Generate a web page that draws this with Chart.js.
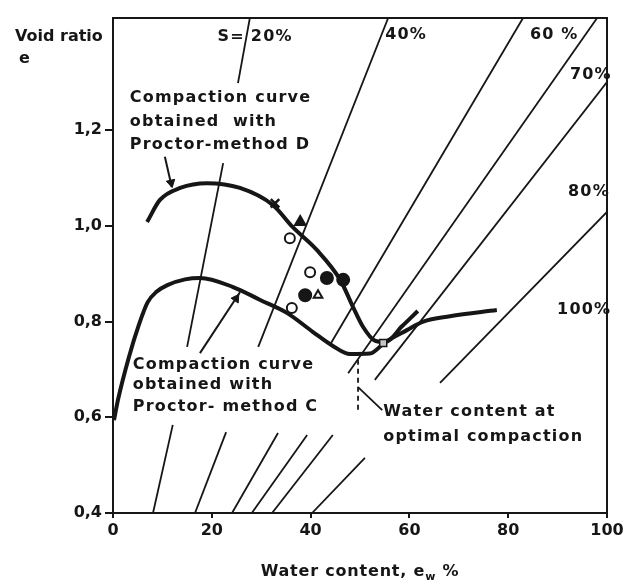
<!DOCTYPE html>
<html>
<head>
<meta charset="utf-8">
<title>Compaction curves</title>
<script src="https://cdn.jsdelivr.net/npm/chart.js@4.4.1/dist/chart.umd.min.js"></script>
<style>
  html, body { margin: 0; padding: 0; background: #fff; }
  #wrap { width: 627px; height: 580px; }
</style>
</head>
<body>
<div id="wrap"><canvas id="chart" width="627" height="580"></canvas></div>
<script>
// water content w (%) / void ratio e
const xTicks = [0, 20, 40, 60, 80, 100];
const yTicks = [0.4, 0.6, 0.8, 1.0, 1.2];
const yTop = 1.434;

// compaction curves
const curveC = [[0.2,0.594],[1.0,0.636],[3.2,0.725],[5.3,0.795],[7.0,0.840],[8.8,0.862],[11.0,0.876],
  [14.6,0.888],[17.6,0.891],[24.3,0.872],[29.8,0.845],[35.2,0.818],[40.5,0.778],[44.5,0.749],[48.0,0.732],
  [52.0,0.733],[55.1,0.757],[59.5,0.782],[62.8,0.800],[68.2,0.811],[77.7,0.824]];
const curveD = [[6.9,1.008],[9.5,1.054],[13.6,1.079],[19.0,1.089],[25.7,1.079],[32.4,1.043],[36.4,0.997],
  [41.3,0.949],[46.0,0.887],[48.6,0.830],[50.6,0.789],[53.0,0.760],[55.1,0.757],[58.5,0.790],[61.7,0.822]];

// saturation lines, split where the labels sit
const sat20 = [[[27.7,1.434],[25.3,1.298]], [[22.3,1.131],[15.0,0.747]], [[8.1,0.40],[12.1,0.584]]];
const sat40 = [[[55.7,1.434],[29.4,0.747]], [[16.6,0.40],[22.9,0.569]]];
const sat60 = [[[83.0,1.434],[43.9,0.751]], [[24.1,0.40],[33.4,0.567]]];
const sat70 = [[[98.0,1.434],[47.6,0.692]], [[28.1,0.40],[39.3,0.563]]];
const sat80 = [[[100,1.300],[53.0,0.678]], [[32.2,0.40],[44.5,0.563]]];
const sat100 = [[[100,1.029],[66.2,0.672]], [[40.3,0.40],[51.0,0.515]]];

// optimum water content marker and leader lines
const optimumLine = [[49.6,0.720],[49.6,0.615]];
const leaderOpt = [[49.6,0.663],[54.5,0.615]];
const leaderD = [[10.5,1.144],[11.9,1.081]];
const leaderC = [[17.6,0.734],[25.7,0.861]];
const arrowD = [[11.75,1.090]];
const arrowC = [[24.9,0.848]];

// test points
const crosses = [[32.8,1.047]];
const filledTriangles = [[37.9,1.008]];
const openCircles = [[35.8,0.974],[39.9,0.903],[36.2,0.828]];
const filledCircles = [[43.3,0.891],[46.6,0.887],[38.9,0.855]];
const openTriangles = [[41.5,0.855]];
const squares = [[54.7,0.755]];

const INK = '#161616';
const FONT = "'DejaVu Sans', sans-serif";

const pts = arr => arr.map(([x, y]) => ({ x, y }));

function lineSet(data, width, extra) {
    return Object.assign({
        data: pts(data),
        showLine: true,
        borderColor: INK,
        borderWidth: width,
        pointRadius: 0,
        fill: false,
        order: 5
    }, extra || {});
}

function markerSet(data, style, radius, filled, extra) {
    return Object.assign({
        data: pts(data),
        showLine: false,
        pointStyle: style,
        pointRadius: radius,
        pointBorderWidth: 2,
        borderColor: INK,
        backgroundColor: filled ? INK : '#fff',
        order: 0
    }, extra || {});
}

const datasets = [];
datasets.push(lineSet(curveC, 4, { cubicInterpolationMode: 'monotone', order: 2 }));
datasets.push(lineSet(curveD, 4, { cubicInterpolationMode: 'monotone', order: 2 }));
[sat20, sat40, sat60, sat70, sat80, sat100].forEach(segs => {
    segs.forEach(seg => datasets.push(lineSet(seg, 1.8)));
});
datasets.push(lineSet(optimumLine, 1.8, { borderDash: [5, 4] }));
datasets.push(lineSet(leaderOpt, 1.8));
datasets.push(lineSet(leaderD, 2));
datasets.push(lineSet(leaderC, 2));
datasets.push(markerSet(arrowD, 'triangle', 5, true, { rotation: 167, pointBorderWidth: 1 }));
datasets.push(markerSet(arrowC, 'triangle', 5, true, { rotation: 34, pointBorderWidth: 1 }));
datasets.push(markerSet(crosses, 'crossRot', 6, false, { pointBorderWidth: 2.5 }));
datasets.push(markerSet(filledTriangles, 'triangle', 6, true));
datasets.push(markerSet(openCircles, 'circle', 5, false));
datasets.push(markerSet(filledCircles, 'circle', 6, true));
datasets.push(markerSet(openTriangles, 'triangle', 5, false));
datasets.push(markerSet(squares, 'rect', 5, false, { backgroundColor: '#c4c4c4', pointBorderWidth: 1.5 }));

// text placed in data coordinates
const textLabels = [
    { x: 26.7, y: 1.394, text: 'S=', align: 'right' },
    { x: 27.9, y: 1.394, text: '20%' },
    { x: 55.1, y: 1.398, text: '40%' },
    { x: 84.4, y: 1.398, text: '60 %' },
    { x: 92.5, y: 1.315, text: '70%' },
    { x: 92.1, y: 1.070, text: '80%' },
    { x: 89.9, y: 0.824, text: '100%' },
    { x: 3.4, y: 1.267, text: 'Compaction curve' },
    { x: 3.4, y: 1.217, text: 'obtained  with' },
    { x: 3.4, y: 1.169, text: 'Proctor-method D' },
    { x: 4.0, y: 0.709, text: 'Compaction curve' },
    { x: 4.0, y: 0.667, text: 'obtained with' },
    { x: 4.0, y: 0.621, text: 'Proctor- method C' },
    { x: 54.7, y: 0.611, text: 'Water content at' },
    { x: 54.7, y: 0.559, text: 'optimal compaction' }
];

const annotations = {
    id: 'annotations',
    afterDatasetsDraw(chart) {
        const { ctx, chartArea: a, scales } = chart;
        ctx.save();
        // frame round the plot
        ctx.strokeStyle = INK;
        ctx.lineWidth = 2;
        ctx.strokeRect(a.left, a.top, a.right - a.left, a.bottom - a.top);

        ctx.fillStyle = INK;
        ctx.font = 'bold 16px ' + FONT;
        ctx.letterSpacing = '1.2px';
        ctx.textBaseline = 'middle';
        textLabels.forEach(l => {
            ctx.textAlign = l.align || 'left';
            ctx.fillText(l.text, scales.x.getPixelForValue(l.x), scales.y.getPixelForValue(l.y));
        });

        // axis titles
        ctx.letterSpacing = '0px';
        ctx.textAlign = 'left';
        ctx.fillText('Void ratio', 15, a.top + 19);
        ctx.fillText('e', 19, a.top + 41);

        ctx.letterSpacing = '0.8px';
        const main = 'Water content, e';
        ctx.font = 'bold 16px ' + FONT;
        const w1 = ctx.measureText(main).width;
        ctx.font = 'bold 11px ' + FONT;
        const w2 = ctx.measureText('w').width;
        ctx.font = 'bold 16px ' + FONT;
        const w3 = ctx.measureText(' %').width;
        let x0 = (a.left + a.right) / 2 - (w1 + w2 + w3) / 2;
        const yb = a.bottom + 59;
        ctx.fillText(main, x0, yb);
        ctx.font = 'bold 11px ' + FONT;
        ctx.fillText('w', x0 + w1, yb + 5);
        ctx.font = 'bold 16px ' + FONT;
        ctx.fillText(' %', x0 + w1 + w2, yb);
        ctx.restore();
    }
};

const tickFont = { family: FONT, size: 16, weight: 'bold' };

new Chart(document.getElementById('chart'), {
    type: 'scatter',
    data: { datasets },
    plugins: [annotations],
    options: {
        responsive: false,
        devicePixelRatio: 1,
        animation: false,
        layout: { padding: { left: 0, top: 18, right: 20, bottom: 0 } },
        plugins: { legend: { display: false }, tooltip: { enabled: false } },
        scales: {
            x: {
                type: 'linear',
                min: xTicks[0],
                max: xTicks[xTicks.length - 1],
                afterBuildTicks: s => { s.ticks = xTicks.map(v => ({ value: v })); },
                afterFit: s => { s.height = 67; },
                ticks: { font: tickFont, color: INK, padding: 3 },
                grid: { drawOnChartArea: false, tickLength: 5, color: INK, lineWidth: 2 },
                border: { display: false }
            },
            y: {
                type: 'linear',
                min: yTicks[0],
                max: yTop,
                afterBuildTicks: s => { s.ticks = yTicks.map(v => ({ value: v })); },
                afterFit: s => { s.width = 113; },
                ticks: {
                    font: tickFont,
                    color: INK,
                    padding: 3,
                    callback: v => v.toFixed(1).replace('.', ',')
                },
                grid: { drawOnChartArea: false, tickLength: 8, color: INK, lineWidth: 2 },
                border: { display: false }
            }
        }
    }
});
</script>
</body>
</html>
